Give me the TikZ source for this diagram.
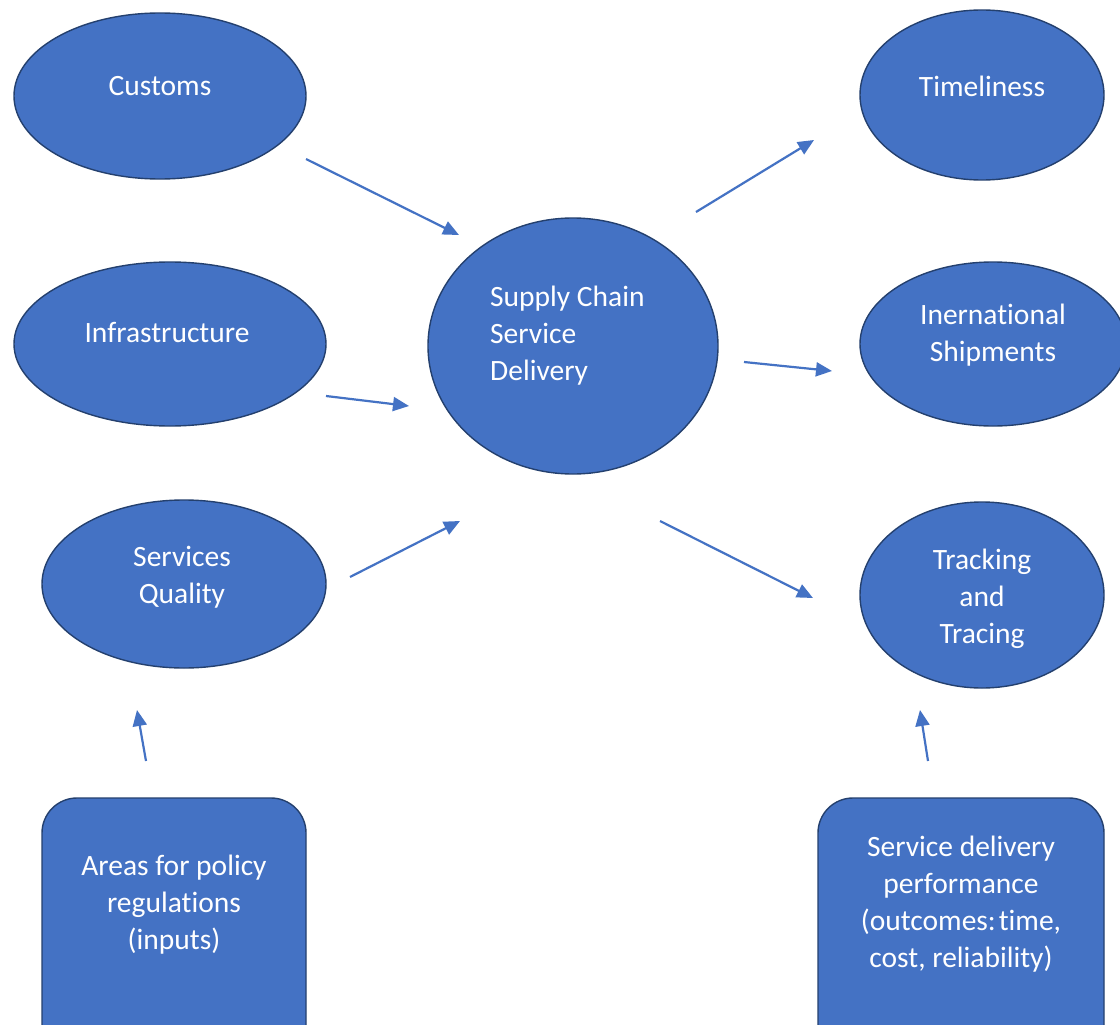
\documentclass[tikz,border=0pt]{standalone}
\usepackage{fontspec}
\setmainfont{Carlito}[Ligatures={NoCommon}]
\usetikzlibrary{shapes.geometric,arrows.meta}
\definecolor{fillblue}{HTML}{4472C4}
\definecolor{edgeblue}{HTML}{24406E}
\begin{document}
\begin{tikzpicture}[x=1pt,y=-1pt,
  shapebox/.style={draw=edgeblue, line width=1.4pt, fill=fillblue, inner sep=0pt},
  oval/.style={shapebox, ellipse},
  rbox/.style={shapebox, rectangle, rounded corners=35pt},
  lbl/.style={text=white, font=\fontsize{29.5}{37}\selectfont, align=center, inner sep=0pt},
  link/.style={draw=fillblue, line width=2.2pt, -{Triangle[length=16pt,width=14pt]}}]
\useasboundingbox (0,0) rectangle (1120,1025);
\clip (0,0) rectangle (1120,1025);
\fill[white] (0,0) rectangle (1120,1025);

% shapes
\node[oval, minimum width=292pt, minimum height=166pt] (customs) at (160,96) {};
\node[oval, minimum width=312pt, minimum height=164pt] (infra) at (170,344) {};
\node[oval, minimum width=284pt, minimum height=168pt] (quality) at (184,584) {};
\node[oval, minimum width=290pt, minimum height=256pt] (scsd) at (573,346) {};
\node[oval, minimum width=244pt, minimum height=170pt] (timely) at (982,95) {};
\node[oval, minimum width=266pt, minimum height=164pt] (intl) at (993,344) {};
\node[oval, minimum width=244pt, minimum height=186pt] (track) at (982,595) {};
\node[rbox, minimum width=264pt, minimum height=262pt] (areas) at (174,929) {};
\node[rbox, minimum width=286pt, minimum height=262pt] (perf) at (961,929) {};

% texts
\node[lbl] (customs-t) at (160,86) {Customs};
\node[lbl] (infra-t) at (167,332) {Infrastructure};
\node[lbl] (quality-t) at (182,577) {Services\\Quality};
\node[lbl, align=left, anchor=west] (scsd-t) at (490,336) {Supply Chain\\Service\\Delivery};
\node[lbl] (timely-t) at (982,86) {Timeliness};
\node[lbl] (intl-t) at (993,335) {Inernational\\Shipments};
\node[lbl] (track-t) at (982,599) {Tracking\\and\\Tracing};
\node[lbl] (areas-t) at (174,905) {Areas for policy\\regulations\\(inputs)};
\node[lbl] (perf-t) at (961,904) {Service delivery\\performance\\(outcomes:\hspace{0.1em}time,\\cost, reliability)};

% connector ends
\coordinate (c1s) at (306,159); \coordinate (c1e) at (459,235);
\coordinate (c2s) at (326,396); \coordinate (c2e) at (409,406);
\coordinate (c3s) at (350,577); \coordinate (c3e) at (460,521);
\coordinate (c4s) at (696,212); \coordinate (c4e) at (814,140);
\coordinate (c5s) at (744,362); \coordinate (c5e) at (832,371);
\coordinate (c6s) at (660,521); \coordinate (c6e) at (813,598);
\coordinate (c7s) at (146,761); \coordinate (c7e) at (137,710);
\coordinate (c8s) at (928,761); \coordinate (c8e) at (920,710);

\draw[link] (c1s) -- (c1e);
\draw[link] (c2s) -- (c2e);
\draw[link] (c3s) -- (c3e);
\draw[link] (c4s) -- (c4e);
\draw[link] (c5s) -- (c5e);
\draw[link] (c6s) -- (c6e);
\draw[link] (c7s) -- (c7e);
\draw[link] (c8s) -- (c8e);
\end{tikzpicture}
\end{document}
